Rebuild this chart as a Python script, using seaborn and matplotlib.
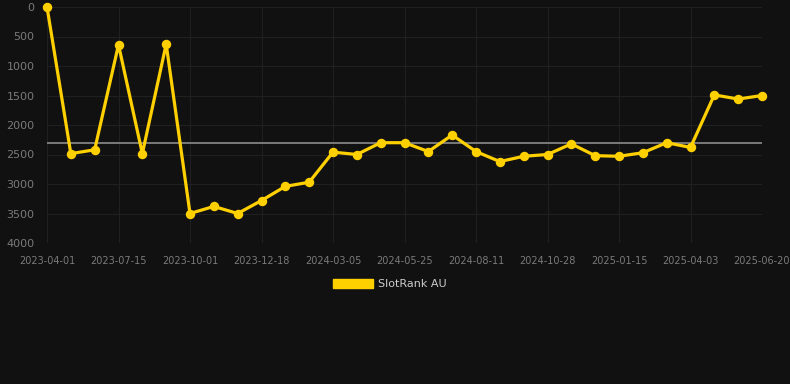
import matplotlib
matplotlib.use("Agg")
import matplotlib.pyplot as plt
import seaborn as sns
import pandas as pd
import numpy as np
from matplotlib.patches import Patch

dates = ["2023-04-01", "", "", "2023-07-15", "", "", "2023-10-01", "", "", "2023-12-18", "", "",
         "2024-03-05", "", "", "2024-05-25", "", "", "2024-08-11", "", "", "2024-10-28", "", "",
         "2025-01-15", "", "", "2025-04-03", "", "", "2025-06-20"]
ranks = [0, 2485, 2420, 640, 2485, 630, 3500, 3380, 3500, 3280, 3040, 2970, 2460, 2500, 2300, 2300,
         2450, 2170, 2450, 2620, 2530, 2500, 2320, 2520, 2530, 2470, 2300, 2380, 1490, 1560, 1500]
series_name = "SlotRank AU"

df = pd.DataFrame({"idx": np.arange(len(ranks)), "rank": ranks, "series": series_name})

sns.set_theme(style="dark")
bg = "#111111"
fig = plt.figure(figsize=(7.9, 3.84), dpi=100, facecolor=bg)
ax = fig.add_axes([47/790, 1-243/384, (762-47)/790, (243-7)/384])
ax.set_facecolor(bg)

gold = "#FFD000"
sns.lineplot(data=df, x="idx", y="rank", ax=ax, color=gold, linewidth=2.3,
             marker="o", markersize=6.8, markeredgewidth=0, legend=False, clip_on=False, zorder=3)

mean_val = float(np.mean(ranks))
ax.plot([0, len(ranks)-1], [mean_val, mean_val], color="#7a7a7a", linewidth=1.4, zorder=2)

ax.set_xlim(0, len(ranks)-1)
ax.set_ylim(4000, 0)
tick_pos = [i for i, d in enumerate(dates) if d]
ax.set_xticks(tick_pos)
ax.set_xticklabels([dates[i] for i in tick_pos])
ax.set_yticks([0, 500, 1000, 1500, 2000, 2500, 3000, 3500, 4000])
ax.grid(True, color="#202020", linewidth=0.8)
ax.tick_params(axis="both", colors="#7a7a7a", labelsize=7, length=7, width=0.8, color="#202020", pad=2)
ax.tick_params(axis="y", labelsize=8)
for s in ax.spines.values():
    s.set_visible(False)
ax.set_xlabel("")
ax.set_ylabel("")

handle = Patch(facecolor=gold, edgecolor=gold)
fig.legend([handle], [series_name], loc="center", bbox_to_anchor=(390/790, 1-284/384),
           frameon=False, fontsize=8, labelcolor="#cccccc", handlelength=3.6, handleheight=0.9,
           handletextpad=0.5)

fig.savefig("out.png", dpi=100, facecolor=bg)
